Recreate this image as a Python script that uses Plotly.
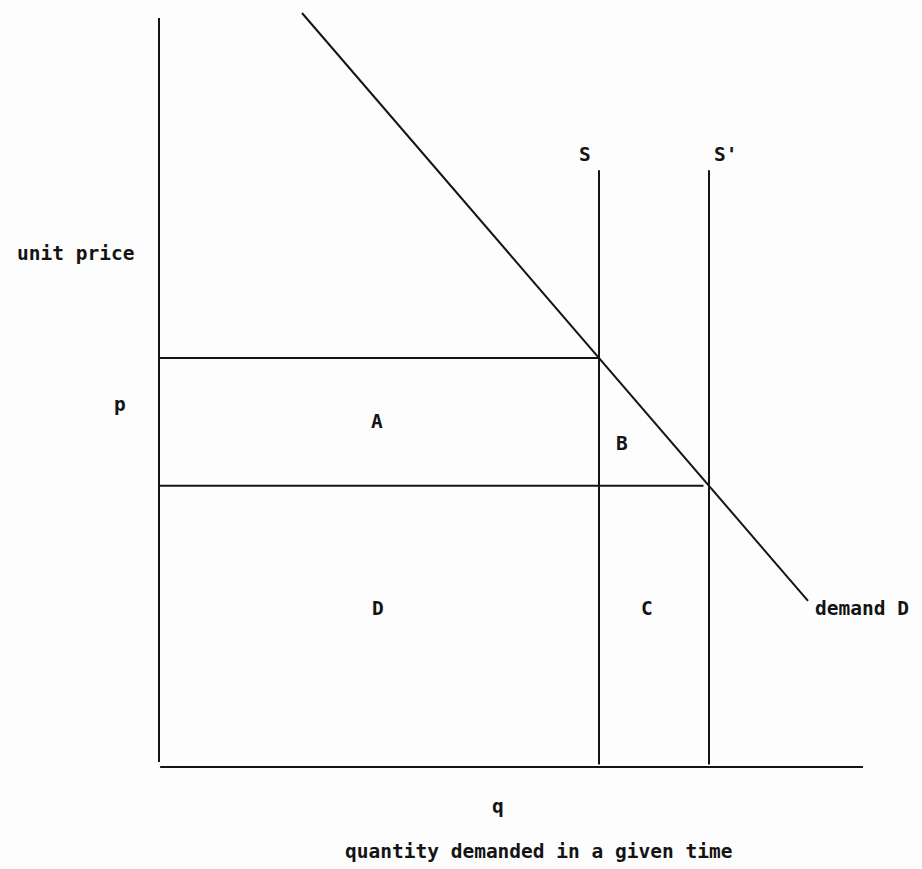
import plotly.graph_objects as go

# ---- data (economic units) ----
supply_names = ["S", "S'"]
supply_q = [40, 50]            # quantities supplied (S, S')
supply_top = 46.7              # height of supply lines
prices = [32, 22]              # price levels p (with S) and with S'
price_line_end = [40, 49.5]    # horizontal price lines end
demand_q = [13, 59]            # demand line endpoints (quantity)
demand_p = [59, 13]            # demand line endpoints (price)
q_axis_max = 64
p_axis_max = 58.6

area_labels = ["A", "B", "D", "C"]
area_q = [19.8, 42.1, 19.9, 44.4]
area_p = [27.0, 25.3, 12.4, 12.4]

INK = "#141414"
FONT = dict(family="DejaVu Sans Mono, monospace", size=19.5, color=INK, weight="bold")
LW = 2

fig = go.Figure()

# axes
fig.add_trace(go.Scatter(x=[0, 0], y=[0.4, p_axis_max], mode="lines",
                         line=dict(color=INK, width=LW), hoverinfo="skip"))
fig.add_trace(go.Scatter(x=[0.1, q_axis_max], y=[0, 0], mode="lines",
                         line=dict(color=INK, width=LW), hoverinfo="skip"))

# demand line
fig.add_trace(go.Scatter(x=demand_q, y=demand_p, mode="lines",
                         line=dict(color=INK, width=LW), hoverinfo="skip"))

# supply lines
for q in supply_q:
    fig.add_trace(go.Scatter(x=[q, q], y=[0.2, supply_top], mode="lines",
                             line=dict(color=INK, width=LW), hoverinfo="skip"))

# price lines
for p, qe in zip(prices, price_line_end):
    fig.add_trace(go.Scatter(x=[0, qe], y=[p, p], mode="lines",
                             line=dict(color=INK, width=LW), hoverinfo="skip"))

annotations = []
def label(text, x, y):
    annotations.append(dict(text=text, x=x, y=y, xref="x", yref="y",
                            showarrow=False, font=FONT,
                            xanchor="center", yanchor="middle"))

for t, x, y in zip(area_labels, area_q, area_p):
    label(t, x, y)

label(supply_names[0], 38.7, 47.9)
label(supply_names[1], 51.5, 47.9)
label("demand D", 63.9, 12.4)
label("unit price", -7.55, 40.2)
label("p", -3.55, 28.4)
label("q", 30.8, -3.1)
label("quantity demanded in a given time", 34.5, -6.6)

fig.update_layout(
    width=922, height=869, autosize=False,
    margin=dict(l=0, r=0, t=0, b=0, pad=0),
    paper_bgcolor="#fdfdfd", plot_bgcolor="#fdfdfd",
    showlegend=False,
    annotations=annotations,
    xaxis=dict(range=[-159 / 11, (922 - 159) / 11], visible=False, fixedrange=True),
    yaxis=dict(range=[(767 - 869) / 12.78, 767 / 12.78], visible=False, fixedrange=True),
)

fig.write_html("out.html", config={"displayModeBar": False})

# remove the default page margin so the figure fills the window exactly
with open("out.html", "r", encoding="utf-8") as f:
    html = f.read()
html = html.replace("<head>", "<head><style>html,body{margin:0;padding:0;overflow:hidden;background:#fdfdfd;}</style>", 1)
with open("out.html", "w", encoding="utf-8") as f:
    f.write(html)
